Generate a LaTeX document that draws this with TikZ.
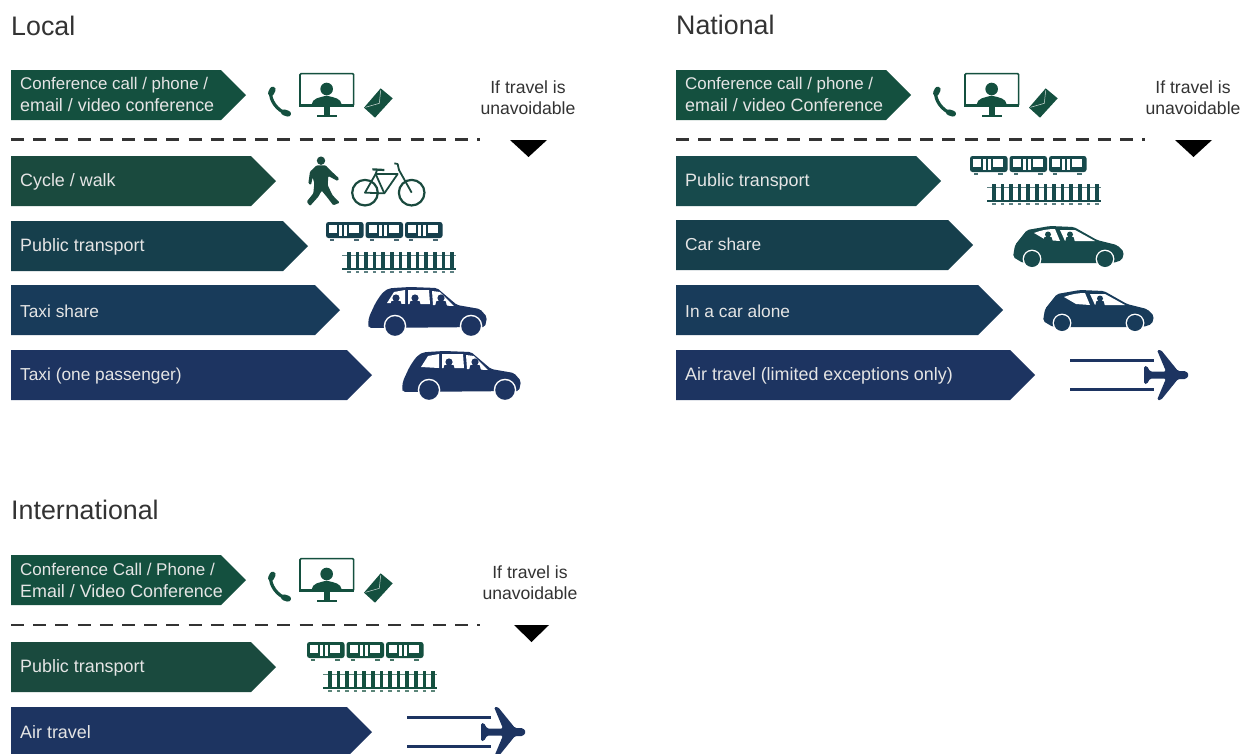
\documentclass[tikz,border=0pt]{standalone}
\usepackage{fontspec}
\setmainfont{Liberation Sans}
\definecolor{cgreen}{HTML}{14503F}
\definecolor{cdgreen}{HTML}{1A4A3E}
\definecolor{cteal}{HTML}{163F4C}
\definecolor{cpetrol}{HTML}{174A4C}
\definecolor{cblue}{HTML}{183B5A}
\definecolor{cnavy}{HTML}{1D3461}
\definecolor{ctxt}{HTML}{333333}
\newcommand\fL{\fontsize{17.9}{22}\selectfont}
\newcommand\fS{\fontsize{16.9}{22}\selectfont}
\tikzset{
  bannertext/.style={text=white!90!black,anchor=west,align=left,inner sep=0pt,font=\fontsize{17.3}{22}\selectfont},
  titletext/.style={text=ctxt,anchor=west,inner sep=0pt,font=\fontsize{26.8}{28}\selectfont},
  notetext/.style={text=ctxt,align=center,inner sep=0pt,font=\fontsize{17.6}{21}\selectfont},
  dashline/.style={draw=ctxt,line width=2.4pt,dash pattern=on 13pt off 9.2pt},
  zoomed/.style={x=0.33333pt,y=-0.33333pt},
}
% [text offset] name, x0, tip x, y top, colour, text
\newcommand\Banner[7][26]{%
  \fill[#6] (#3,#5) -- ({#4-25},#5) -- (#4,{#5+25}) -- ({#4-25},{#5+50}) -- (#3,{#5+50}) -- cycle;
  \node[bannertext] (#2) at ({#3+9},{#5+#1}) {#7};
}
% origin x, y, colour
\newcommand\IconTrain[3]{\begin{scope}[shift={(#1,#2)}]
  \foreach \cx in {0,39.5,79}{
    \fill[#3,rounded corners=2.5pt] (\cx,0) rectangle ++(37.5,16);
    \fill[white] (\cx+3,3) rectangle ++(8,8);
    \fill[white] (\cx+13,3) rectangle ++(3,11);
    \fill[white] (\cx+18,3) rectangle ++(3,11);
    \fill[white] (\cx+23,3) rectangle ++(10,8);
    \fill[#3!80!white] (\cx+4,17) rectangle ++(4,1.6);
    \fill[#3!80!white] (\cx+28,17) rectangle ++(5,1.6);
  }
\end{scope}}
\newcommand\IconTrack[3]{\begin{scope}[shift={(#1,#2)}]
  \fill[#3!70!white] (0,3) rectangle ++(114,1);
  \foreach \k in {0,...,12}{
    \fill[#3] ({5+8.6*\k},0) rectangle ++(3.6,16);
    \fill[#3!70!white] ({5+8.6*\k},19) rectangle ++(3.6,1.5);
  }
  \fill[#3] (0,16) rectangle ++(114,1.6);
\end{scope}}
% drawn in a 1/3 px grid, origin x, y
\newcommand\IconComms[3]{\begin{scope}[shift={(#1,#2)},zoomed]
  % phone
  \draw[#3,line width=3.2pt,line cap=round] (32,82) .. controls (30,105) and (50,135) .. (78,145);
  \draw[#3,line width=6pt,line cap=round] (38,74) -- (33,84);
  \draw[#3,line width=6pt,line cap=round] (72,142) -- (84,146);
  % monitor
  \draw[#3,line width=1.6pt,rounded corners=1pt] (120,26) rectangle (281,122);
  \fill[#3] (118,118) rectangle (283,126);
  \fill[#3] (200,72) circle[radius=6.3pt];
  \fill[#3] (155,118) .. controls (158,100) and (175,98) .. (200,92) .. controls (225,98) and (242,100) .. (245,118) -- cycle;
  \fill[#3] (191,125) rectangle (209,150);
  \fill[#3] (170,149) rectangle (230,156);
  % envelope
  \fill[#3] (362,70) -- (398,100) -- (345,158) -- (312,128) -- cycle;
  \draw[white!80!cgreen,line width=0.5pt] (316,127) -- (358,115) -- (362,76);
\end{scope}}
% origin x, y, colour, seated heads
\newcommand\IconTaxi[4]{\begin{scope}[shift={(#1,#2)}]
  \fill[#3,rounded corners=2pt] (1,38) -- (2,30) -- (8,17) .. controls (14,7) and (18,2) .. (26,1) -- (43,0) -- (70,1) -- (90,18) -- (113,22) -- (120,30) -- (118,40) -- (2,41) -- cycle;
  \fill[white] (20,16) -- (27,5) -- (38,3) -- (38,17) -- cycle;
  \fill[white] (41,3) -- (62,3) -- (63,17) -- (41,17) -- cycle;
  \fill[white] (65,4) -- (73,5) -- (87,19) -- (66,18) -- cycle;
  \foreach \hx in {#4}{
    \fill[#3] (\hx,11) circle[radius=3.6pt];
    \fill[#3] (\hx-6,19) -- (\hx-4.5,14) -- (\hx+4.5,14) -- (\hx+6,19) -- cycle;
  }
  \fill[white] (28,39) circle[radius=11.3pt];
  \fill[white] (104,39) circle[radius=11.3pt];
  \fill[#3] (28,39) circle[radius=9.8pt];
  \fill[#3] (104,39) circle[radius=9.8pt];
\end{scope}}
\newcommand\IconCar[4]{\begin{scope}[shift={(#1,#2)}]
  \fill[#3,rounded corners=2pt] (0,31) -- (2,19) -- (14,4) -- (37,0) -- (61,1) -- (84,14) -- (104,19) -- (111,26) -- (109,34) -- (100,37) -- (10,37) -- cycle;
  \fill[white] (21,7) .. controls (28,4) and (36,3) .. (42,3) -- (47,15) -- (33,14) -- cycle;
  \fill[white] (47,4) -- (62,4) -- (82,15) -- (52,15) -- cycle;
  \foreach \hx in {#4}{
    \fill[#3] (\hx,8.5) circle[radius=3pt];
    \fill[#3] (\hx-5,16) -- (\hx-3.5,11) -- (\hx+3.5,11) -- (\hx+5,16) -- cycle;
  }
  \fill[white] (19,33) circle[radius=9.4pt];
  \fill[white] (92,33) circle[radius=9.4pt];
  \fill[#3] (19,33) circle[radius=8pt];
  \fill[#3] (92,33) circle[radius=8pt];
\end{scope}}
% origin x, centre y, colour
\newcommand\IconPlane[3]{\begin{scope}[shift={(#1,#2)}]
  \fill[#3] (0,-16) rectangle (84,-13);
  \fill[#3] (0,13) rectangle (84,16);
  \fill[#3,rounded corners=1.5pt] (74,-9) -- (77,-9) -- (80,-3.5) -- (96,-3.5) -- (87,-25) -- (91,-25) -- (108,-4) -- (116,-4) -- (119,0) -- (116,4) -- (108,4) -- (91,25) -- (87,25) -- (96,3.5) -- (80,3.5) -- (77,9) -- (74,9) -- cycle;
\end{scope}}
\newcommand\IconWalker[3]{\begin{scope}[shift={(#1,#2)},zoomed]
  \fill[#3] (78,32) circle[radius=4.2pt];
  \fill[#3,rounded corners=1pt] (65,46) -- (92,46) -- (105,60) -- (132,85) -- (128,93) -- (100,78) -- (98,105) -- (112,135) -- (134,158) -- (115,166) -- (95,140) -- (80,122) -- (70,140) -- (45,168) -- (35,155) -- (55,130) -- (58,100) -- (53,82) -- (48,105) -- (40,100) -- (45,65) -- cycle;
\end{scope}}
\newcommand\IconBike[3]{\begin{scope}[shift={(#1,#2)},zoomed,line join=round]
  \draw[#3,line width=2.2pt] (210,128) circle[radius=12.8pt];
  \draw[#3,line width=2.2pt] (350,128) circle[radius=12.8pt];
  \draw[#3,line width=1.8pt] (210,128) -- (242,72) -- (308,72) -- (268,130) -- cycle;
  \draw[#3,line width=1.8pt] (242,72) -- (268,130);
  \draw[#3,line width=1.8pt] (350,128) -- (312,60) -- (308,42) -- (298,40);
  \draw[#3,line width=1.8pt] (242,72) -- (246,60);
  \draw[#3,line width=2.2pt] (232,58) -- (268,60);
\end{scope}}
\begin{document}
\begin{tikzpicture}[x=1pt,y=-1pt]
\useasboundingbox (0,0) rectangle (1242,753);
\fill[white] (0,0) rectangle (1242,753);
%% Local
\node[titletext] (tlocal) at (11,26) {Local};
\Banner[24]{lcall}{11}{246}{70}{cgreen}{{\fS Conference call / phone /}\\{\fL email / video conference}}
\IconComms{260}{65}{cgreen}
\node[notetext] (lnote) at (528,98) {If travel is\\unavoidable};
\draw[dashline] (11,139.5) -- (480,139.5);
\fill[black] (510,140) -- (547,140) -- (528.5,157) -- cycle;
\Banner{lcycle}{11}{276}{156}{cdgreen}{\fL Cycle / walk}
\IconWalker{295}{150}{cdgreen}
\IconBike{295}{150}{cdgreen}
\Banner{lpublic}{11}{308}{221}{cteal}{\fL Public transport}
\IconTrain{326}{222}{cteal}
\IconTrack{342}{252}{cpetrol}
\Banner{lshare}{11}{340}{285}{cblue}{Taxi share}
\IconTaxi{367}{287}{cnavy}{29,48,74}
\Banner[26.5]{ltaxi}{11}{372}{350}{cnavy}{Taxi (one passenger)}
\IconTaxi{401}{351}{cnavy}{48,74}
%% National
\node[titletext] (tnat) at (676,25) {National};
\Banner[24]{ncall}{676}{911}{70}{cgreen}{{\fS Conference call / phone /}\\{\fL email / video Conference}}
\IconComms{925}{65}{cgreen}
\node[notetext] (nnote) at (1193,98) {If travel is\\unavoidable};
\draw[dashline] (676,139.5) -- (1145,139.5);
\fill[black] (1175,140) -- (1212,140) -- (1193.5,157) -- cycle;
\Banner{npublic}{676}{941}{156}{cpetrol}{\fL Public transport}
\IconTrain{970}{156}{cpetrol}
\IconTrack{987}{184}{cpetrol}
\Banner[24.5]{nshare}{676}{973}{220}{cteal}{Car share}
\IconCar{1013}{226}{cpetrol}{35,57}
\Banner{nalone}{676}{1003}{285}{cblue}{In a car alone}
\IconCar{1043}{290}{cblue}{57}
\Banner{nair}{676}{1035}{350}{cnavy}{\fL Air travel (limited exceptions only)}
\IconPlane{1070}{375}{cnavy}
%% International
\node[titletext] (tint) at (11,510) {International};
\Banner[25]{icall}{11}{246}{555}{cgreen}{{\fontsize{17}{22}\selectfont Conference Call / Phone /}\\{\fL Email / Video Conference}}
\IconComms{260}{550}{cgreen}
\node[notetext] (inote) at (530,583) {If travel is\\unavoidable};
\draw[dashline] (11,625) -- (480,625);
\fill[black] (514,625) -- (549,625) -- (531.5,642) -- cycle;
\Banner{ipublic}{11}{276}{642}{cdgreen}{\fL Public transport}
\IconTrain{307}{642}{cgreen}
\IconTrack{323}{671}{cgreen}
\Banner[25]{iair}{11}{372}{707}{cnavy}{\fL Air travel}
\IconPlane{407}{732}{cnavy}
\end{tikzpicture}
\end{document}
